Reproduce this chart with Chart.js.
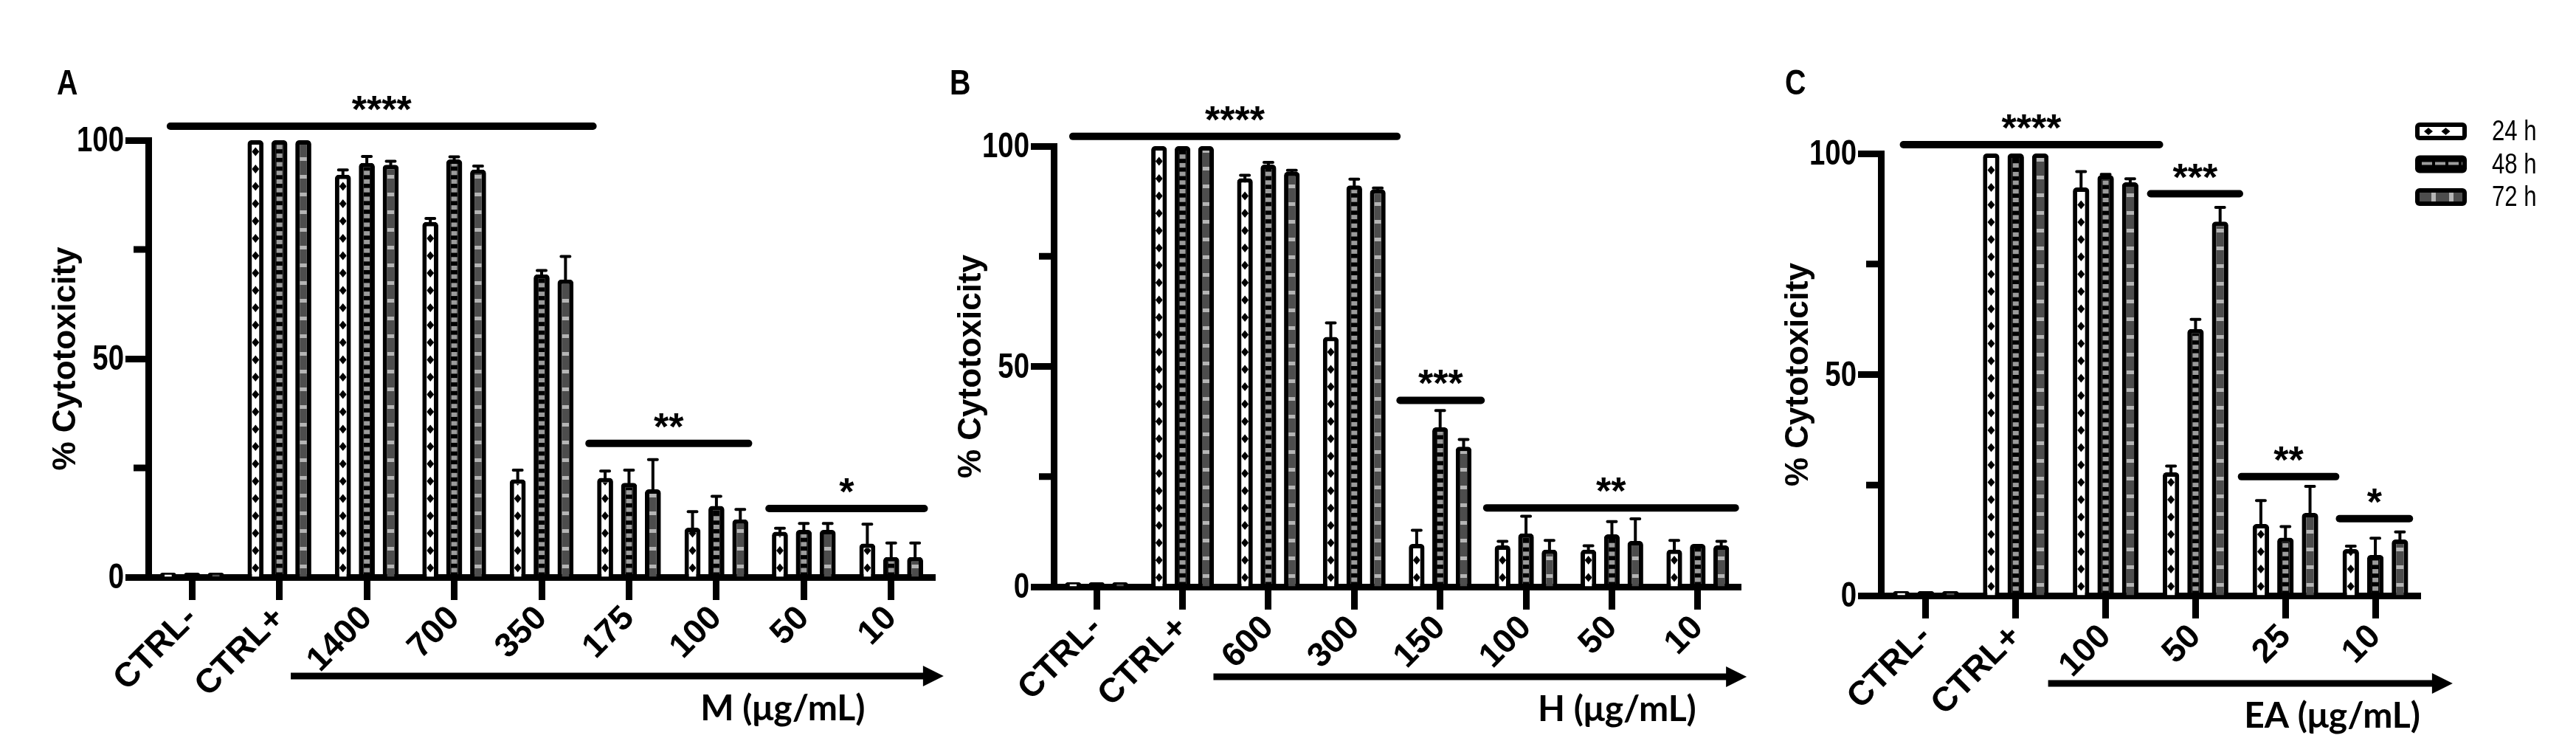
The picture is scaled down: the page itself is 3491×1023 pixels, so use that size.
<!DOCTYPE html>
<html>
<head>
<meta charset="utf-8">
<script src="https://cdn.jsdelivr.net/npm/chart.js@4.4.1/dist/chart.umd.min.js"></script>
<style>
  html, body { margin: 0; padding: 0; background: #fff; }
  body { width: 3491px; height: 1023px; position: relative; overflow: hidden; }
  canvas { position: absolute; top: 0; }
</style>
</head>
<body>
<canvas id="chartA" width="1300" height="1023" style="left:0px"></canvas>
<canvas id="chartB" width="1165" height="1023" style="left:1227px"></canvas>
<canvas id="chartC" width="1143" height="1023" style="left:2348px"></canvas>
<script>
// series and axis ticks
const series = ["24 h", "48 h", "72 h"];
const yTickLabels = [0, 50, 100];
const yMinorTicks = [25, 75];

// panel A - M extract
const catsA = ["CTRL-", "CTRL+", "1400", "700", "350", "175", "100", "50", "10"];
const a24 = [1, 100, 92.1, 81.3, 22.4, 22.7, 11.3, 10.4, 7.7];
const a48 = [1, 100, 94.8, 95.6, 69.3, 21.6, 16.3, 10.8, 4.6];
const a72 = [1, 100, 94.4, 93.3, 68.1, 20.1, 13.2, 10.8, 4.6];
const a24sd = [0, 0, 1.1, 0.8, 2.1, 1.6, 3.7, 0.8, 4.4];
const a48sd = [0, 0, 1.5, 0.6, 0.9, 2.9, 2.2, 1.5, 3.2];
const a72sd = [0, 0, 0.8, 0.8, 5.3, 6.8, 2.3, 1.5, 3.2];
const sigA = [
  { text: "****", y: 103.2, from: -0.29, to: 4.63 },
  { text: "**", y: 30.6, from: 4.50, to: 6.41 },
  { text: "*", y: 15.7, from: 6.56, to: 8.42 }
];

// panel B - H extract
const catsB = ["CTRL-", "CTRL+", "600", "300", "150", "100", "50", "10"];
const b24 = [1, 100, 92.7, 56.7, 9.7, 9.4, 8.4, 8.4];
const b48 = [1, 100, 95.8, 91.1, 36.2, 12.1, 11.9, 9.7];
const b72 = [1, 100, 94.2, 90.2, 31.8, 8.4, 10.4, 9.4];
const b24sd = [0, 0, 0.7, 3.2, 3.1, 0.9, 0.9, 2.1];
const b48sd = [0, 0, 0.5, 1.4, 3.8, 3.9, 2.9, 0];
const b72sd = [0, 0, 0.3, 0.3, 1.6, 2.1, 5.0, 0.9];
const sigB = [
  { text: "****", y: 102.2, from: -0.32, to: 3.54 },
  { text: "***", y: 42.3, from: 3.49, to: 4.52 },
  { text: "**", y: 17.9, from: 4.50, to: 7.48 }
];

// panel C - EA extract
const catsC = ["CTRL-", "CTRL+", "100", "50", "25", "10"];
const c24 = [1, 100, 92.3, 27.9, 16.2, 10.5];
const c48 = [1, 100, 95.1, 60.3, 13.1, 9.2];
const c72 = [1, 100, 93.5, 84.6, 18.7, 12.7];
const c24sd = [0, 0, 3.6, 1.4, 5.3, 0.7];
const c48sd = [0, 0, 0.2, 2.2, 2.5, 3.8];
const c72sd = [0, 0, 0.8, 3.2, 6.0, 1.7];
const sigC = [
  { text: "****", y: 102.0, from: -0.29, to: 2.64 },
  { text: "***", y: 90.9, from: 2.46, to: 3.53 },
  { text: "**", y: 26.9, from: 3.47, to: 4.60 },
  { text: "*", y: 17.4, from: 4.56, to: 5.42 }
];

const SANS = "'Liberation Sans', Arial, sans-serif";
const TITLE = "Lato, 'Open Sans', sans-serif";
const fills = ["#ffffff", "#000000", "#4d4d4d"];
const BW = 6; // bar border

// layout of each panel (page pixels)
const panels = [
  { id: "chartA", letter: "A", cats: catsA, values: [a24, a48, a72], errors: [a24sd, a48sd, a72sd], sig: sigA,
    unit: "M (\u03bcg/mL)", left: 0, width: 1300, top: 190, bottom: 782, right: 1267,
    arrow: [1.13, 8.6], arrowDy: 134, titleAt: 6.76, letterDx: -124, legend: false },
  { id: "chartB", letter: "B", cats: catsB, values: [b24, b48, b72], errors: [b24sd, b48sd, b72sd], sig: sigB,
    unit: "H (\u03bcg/mL)", left: 1227, width: 1165, top: 198, bottom: 795, right: 2359,
    arrow: [1.36, 7.57], arrowDy: 122, titleAt: 6.06, letterDx: -141, legend: false },
  { id: "chartC", letter: "C", cats: catsC, values: [c24, c48, c72], errors: [c24sd, c48sd, c72sd], sig: sigC,
    unit: "EA (\u03bcg/mL)", left: 2348, width: 1143, top: 208, bottom: 807, right: 3280,
    arrow: [1.36, 5.86], arrowDy: 119, titleAt: 4.52, letterDx: -130, legend: true }
];

// narrow text: Liberation Sans squeezed horizontally
function narrowText(ctx, text, x, y, size, weight, align, sx) {
  ctx.save();
  ctx.font = weight + " " + size + "px " + SANS;
  const w = ctx.measureText(text).width * sx;
  let x0 = x;
  if (align === "right") x0 = x - w;
  else if (align === "center") x0 = x - w / 2;
  ctx.translate(x0, y);
  ctx.scale(sx, 1);
  ctx.textAlign = "left";
  ctx.fillText(text, 0, 0);
  ctx.restore();
}

// inside pattern of one bar (vertical) or legend swatch (horizontal)
function drawPattern(ctx, k, l, t, r, b, horizontal) {
  ctx.save();
  ctx.beginPath();
  ctx.rect(l, t, r - l, b - t);
  ctx.clip();
  const cx = (l + r) / 2, cy = (t + b) / 2;
  if (k === 0) {
    ctx.fillStyle = "#000";
    if (!horizontal) {
      for (let yy = b - 12; yy > t - 8; yy -= 23.5) {
        ctx.beginPath();
        ctx.moveTo(cx, yy - 6); ctx.lineTo(cx + 5, yy); ctx.lineTo(cx, yy + 6); ctx.lineTo(cx - 5, yy);
        ctx.closePath(); ctx.fill();
      }
    } else {
      for (let xx = l + 12; xx < r; xx += 23.5) {
        ctx.beginPath();
        ctx.moveTo(xx - 6, cy); ctx.lineTo(xx, cy - 5); ctx.lineTo(xx + 6, cy); ctx.lineTo(xx, cy + 5);
        ctx.closePath(); ctx.fill();
      }
    }
  } else if (k === 1) {
    ctx.fillStyle = "#9c9c9c";
    if (!horizontal) {
      for (let yy = b - 9; yy > t; yy -= 11.7) ctx.fillRect(cx - 4, yy - 3, 8, 6);
    } else {
      for (let xx = l + 3; xx < r; xx += 18) ctx.fillRect(xx, cy - 3, 14, 4);
    }
  } else {
    ctx.fillStyle = "#b5b5b5";
    if (!horizontal) {
      for (let yy = b - 14; yy > t; yy -= 24) ctx.fillRect(l, yy - 2.5, r - l, 5);
    } else {
      for (let xx = l + 16; xx < r; xx += 24) ctx.fillRect(xx, t, 6, b - t);
    }
  }
  ctx.restore();
}

function roundRect(ctx, x, y, w, h, rad) {
  ctx.beginPath();
  ctx.moveTo(x + rad, y);
  ctx.arcTo(x + w, y, x + w, y + h, rad);
  ctx.arcTo(x + w, y + h, x, y + h, rad);
  ctx.arcTo(x, y + h, x, y, rad);
  ctx.arcTo(x, y, x + w, y, rad);
  ctx.closePath();
}

function makePlugin(p) {
  return {
    id: "decor" + p.letter,
    afterDatasetsDraw(chart) {
      const ctx = chart.ctx;
      const yS = chart.scales.y;
      chart.data.datasets.forEach((ds, di) => {
        chart.getDatasetMeta(di).data.forEach((bar, i) => {
          const x = bar.x, y = bar.y, base = bar.base, w = bar.width;
          const l = x - w / 2 + BW, r = x + w / 2 - BW, t = y + BW;
          if (base - t > 3) drawPattern(ctx, di, l, t, r, base, false);
          const sd = p.errors[di][i];
          if (sd > 0) {
            const ye = yS.getPixelForValue(ds.data[i] + sd);
            ctx.save();
            ctx.strokeStyle = "#000";
            ctx.lineWidth = 4;
            ctx.lineCap = "round";
            ctx.beginPath();
            ctx.moveTo(x, y); ctx.lineTo(x, ye);
            ctx.moveTo(x - 6, ye); ctx.lineTo(x + 6, ye);
            ctx.stroke();
            ctx.restore();
          }
        });
      });
    },
    afterDraw(chart) {
      const ctx = chart.ctx;
      const xS = chart.scales.x, yS = chart.scales.y;
      const area = chart.chartArea;
      ctx.save();
      ctx.fillStyle = "#000";
      ctx.strokeStyle = "#000";

      // minor y ticks
      yMinorTicks.forEach(v => {
        const yy = yS.getPixelForValue(v);
        ctx.fillRect(area.left - 20, yy - 4.5, 20, 9);
      });

      // y tick labels (condensed)
      ctx.textBaseline = "middle";
      yTickLabels.forEach(v => {
        narrowText(ctx, String(v), area.left - 33, yS.getPixelForValue(v) + 2, 48, "bold", "right", 0.8);
      });
      ctx.textBaseline = "alphabetic";

      // significance bars
      ctx.lineWidth = 10;
      ctx.lineCap = "round";
      ctx.textAlign = "center";
      ctx.font = "bold 52px " + SANS;
      p.sig.forEach(s => {
        const x1 = xS.getPixelForValue(s.from) + 5, x2 = xS.getPixelForValue(s.to) - 5;
        const yy = yS.getPixelForValue(s.y);
        ctx.beginPath(); ctx.moveTo(x1, yy); ctx.lineTo(x2, yy); ctx.stroke();
        ctx.fillText(s.text, (x1 + x2) / 2, yy - 5);
      });

      // concentration arrow and unit label
      const ay = area.bottom + p.arrowDy;
      const ax1 = xS.getPixelForValue(p.arrow[0]), ax2 = xS.getPixelForValue(p.arrow[1]);
      ctx.lineCap = "butt";
      ctx.lineWidth = 9;
      ctx.beginPath(); ctx.moveTo(ax1, ay); ctx.lineTo(ax2 - 24, ay); ctx.stroke();
      ctx.beginPath(); ctx.moveTo(ax2 - 28, ay - 14); ctx.lineTo(ax2, ay); ctx.lineTo(ax2 - 28, ay + 14); ctx.closePath(); ctx.fill();
      ctx.font = "bold 48px " + TITLE;
      ctx.fillText(p.unit, xS.getPixelForValue(p.titleAt), ay + 60);

      // panel letter
      narrowText(ctx, p.letter, area.left + p.letterDx, 128, 48, "bold", "left", 0.82);

      // legend
      if (p.legend) {
        const lx = area.right - 7;
        chart.data.datasets.forEach((ds, k) => {
          const top = 166 + k * 44.5;
          roundRect(ctx, lx, top, 70, 24, 6);
          ctx.fillStyle = "#000";
          ctx.fill();
          ctx.fillStyle = fills[k];
          ctx.fillRect(lx + 6, top + 6, 58, 12);
          drawPattern(ctx, k, lx + 6, top + 6, lx + 64, top + 18, true);
          ctx.fillStyle = "#000";
          ctx.textBaseline = "middle";
          narrowText(ctx, ds.label, lx + 104, top + 14, 38, "normal", "left", 0.82);
          ctx.textBaseline = "alphabetic";
        });
      }
      ctx.restore();
    }
  };
}

panels.forEach(p => {
  const ctx = document.getElementById(p.id).getContext("2d");
  new Chart(ctx, {
    type: "bar",
    data: {
      labels: p.cats,
      datasets: series.map((name, k) => ({
        label: name,
        data: p.values[k],
        backgroundColor: fills[k],
        borderColor: "#000",
        borderWidth: BW,
        borderRadius: 5,
        categoryPercentage: 0.82,
        barPercentage: 0.67
      }))
    },
    options: {
      responsive: false,
      animation: false,
      layout: { padding: { left: 0, top: p.top, right: p.left + p.width - p.right, bottom: 0 } },
      plugins: { legend: { display: false }, tooltip: { enabled: false } },
      scales: {
        x: {
          z: 1,
          offset: true,
          grid: { drawOnChartArea: false, offset: false, tickLength: 31, tickWidth: 9, tickColor: "#000" },
          border: { display: true, width: 9, color: "#000" },
          ticks: {
            autoSkip: false, minRotation: 45, maxRotation: 45, padding: -2, color: "#000",
            font: { family: SANS, weight: "bold", size: 46 }
          },
          afterFit: s => { s.height = 1023 - p.bottom; }
        },
        y: {
          min: 0,
          max: 100,
          ticks: { stepSize: 25, display: false },
          grid: {
            drawOnChartArea: false, tickLength: 31, tickWidth: 9,
            tickColor: c => (c.tick && yTickLabels.includes(c.tick.value)) ? "#000" : "rgba(0,0,0,0)"
          },
          border: { width: 9, color: "#000" },
          title: {
            display: true, text: "% Cytotoxicity", color: "#000",
            font: { family: SANS, weight: "bold", size: 44 },
            padding: { top: 63, bottom: 0 }
          },
          afterFit: s => { s.width = 201; }
        }
      }
    },
    plugins: [makePlugin(p)]
  });
});
</script>
</body>
</html>
